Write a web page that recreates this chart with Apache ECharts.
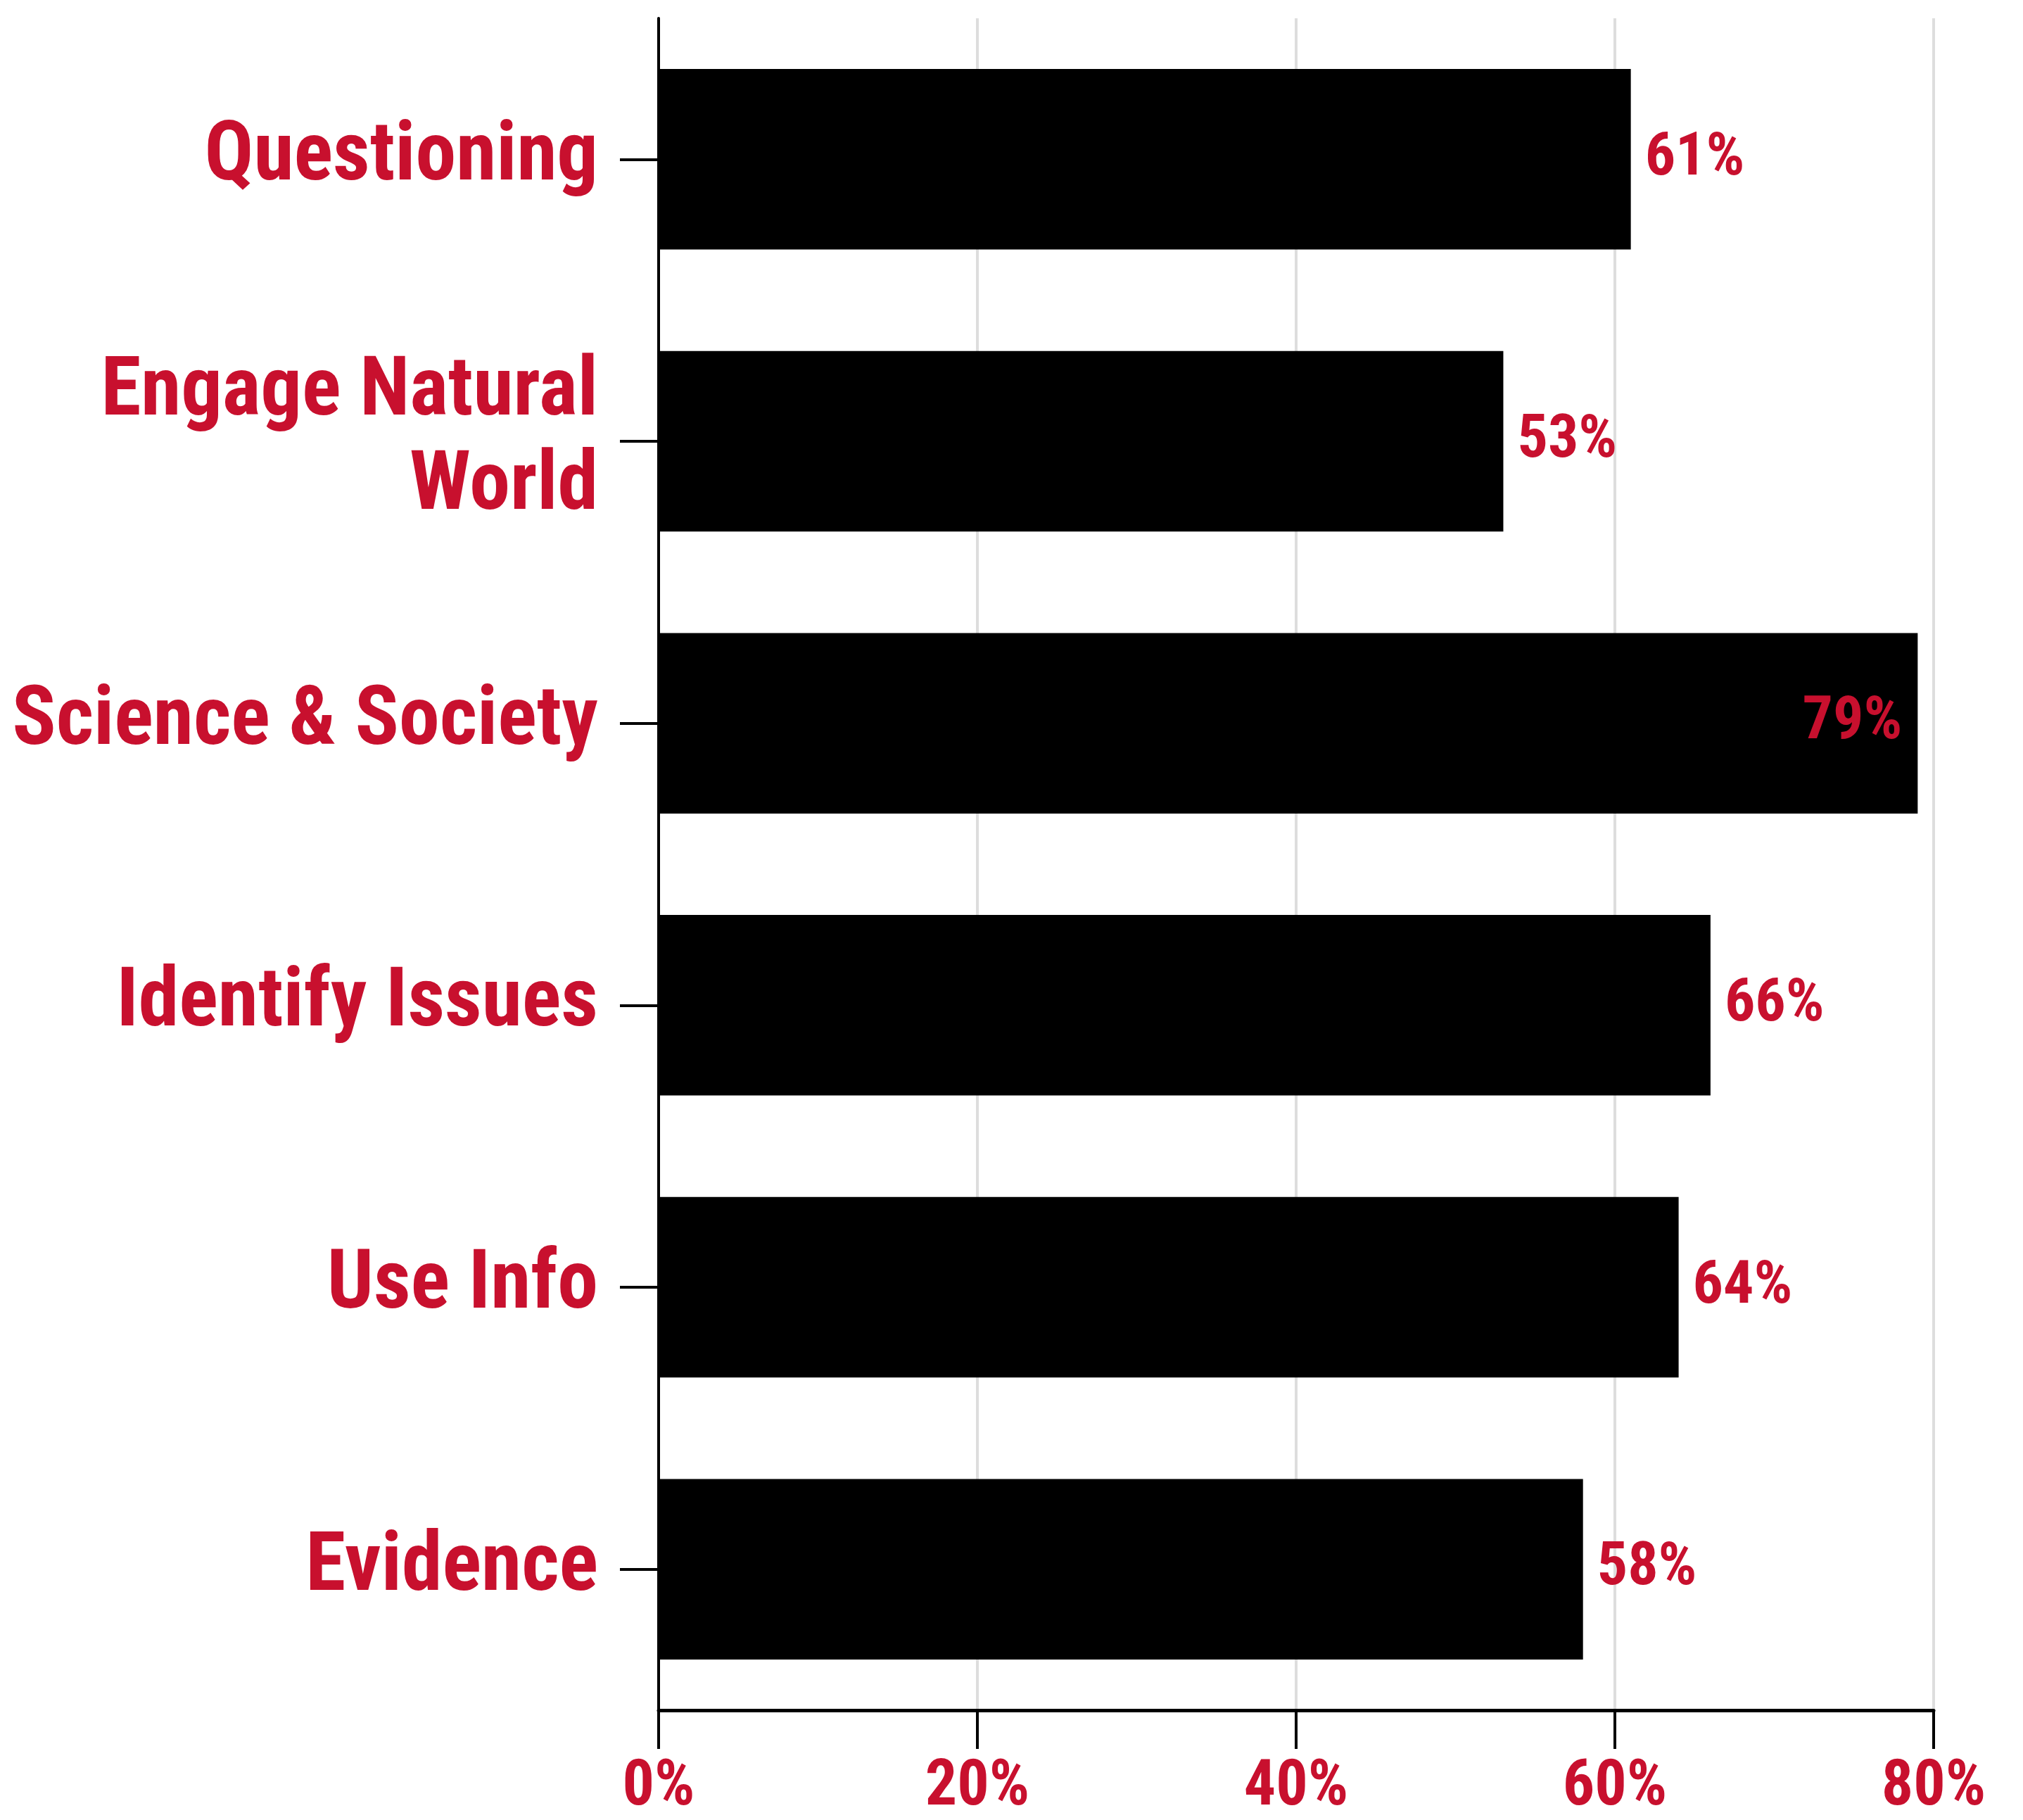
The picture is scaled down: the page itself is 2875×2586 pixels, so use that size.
<!DOCTYPE html>
<html>
<head>
<meta charset="utf-8">
<script src="https://cdn.jsdelivr.net/npm/echarts@6/dist/echarts.min.js"></script>
<style>html,body{margin:0;padding:0;background:#fff}#c{width:2875px;height:2586px}</style>
</head>
<body>
<div id="c"></div>
<script>
const categories = ['Questioning', 'Engage Natural\nWorld', 'Science & Society', 'Identify Issues', 'Use Info', 'Evidence'];
const values = [61, 53, 79, 66, 64, 58];
const insideLabel = [false, false, true, false, false, false];
const xTicks = [0, 20, 40, 60, 80];

const RED = '#C8102E';
const FONT = '"Roboto Condensed", "Liberation Sans Narrow", "Arial Narrow", Roboto, sans-serif';
const chart = echarts.init(document.getElementById('c'));
chart.setOption({
  backgroundColor: '#fff',
  animation: false,
  grid: { left: 936, right: 127, top: 26, bottom: 148 },
  xAxis: {
    type: 'value', min: xTicks[0], max: xTicks[xTicks.length - 1], interval: 20,
    axisLine: { show: true, lineStyle: { color: '#000', width: 5 } },
    axisTick: { show: true, length: 55, lineStyle: { color: '#000', width: 4 } },
    axisLabel: { color: RED, fontFamily: FONT, fontWeight: 'bold', fontSize: 90, margin: 66, formatter: v => v + '%' },
    splitLine: { show: true, lineStyle: { color: '#dddddd', width: 4 } }
  },
  yAxis: {
    type: 'category', inverse: true, data: categories,
    axisLine: { show: true, lineStyle: { color: '#000', width: 4 } },
    axisTick: { show: true, alignWithLabel: true, length: 55, lineStyle: { color: '#000', width: 4 } },
    axisLabel: { color: RED, fontFamily: FONT, fontWeight: 'bold', fontSize: 116, lineHeight: 134, margin: 86, align: 'right' },
    splitLine: { show: false }
  },
  series: [{
    type: 'bar',
    data: values.map((v, i) => ({
      value: v,
      label: insideLabel[i] ? { position: 'insideRight', distance: 22 } : { position: 'right', distance: 20 }
    })),
    barCategoryGap: '36%',
    itemStyle: { color: '#000' },
    label: { show: true, color: RED, fontFamily: FONT, fontWeight: 'bold', fontSize: 86, formatter: p => p.value + '%' }
  }]
});
</script>
</body>
</html>
